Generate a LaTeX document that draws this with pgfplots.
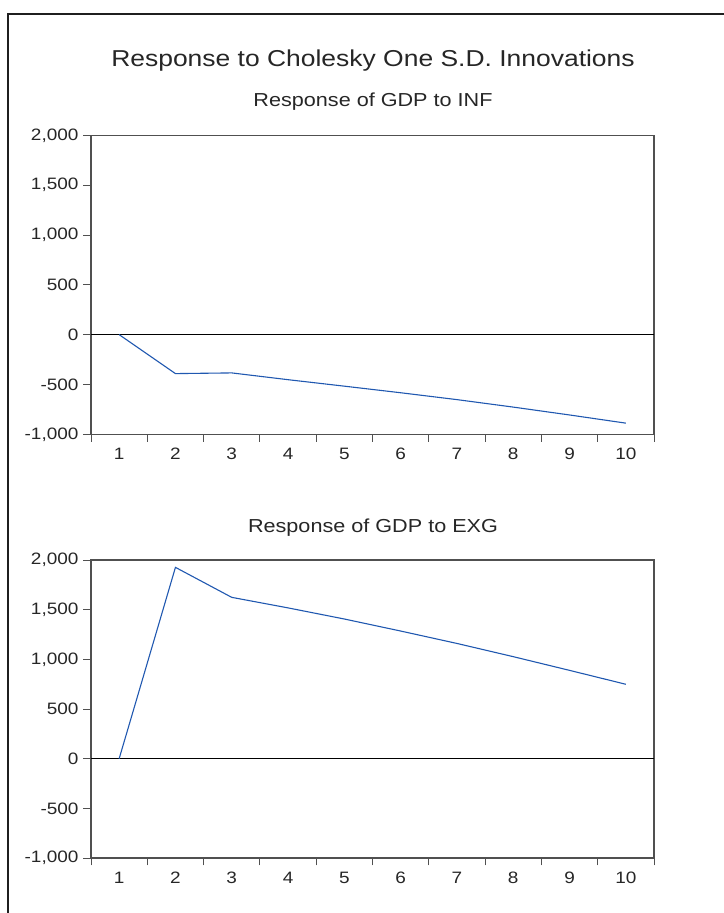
\documentclass[border=0pt]{standalone}
\usepackage{fontspec}
\setmainfont{Liberation Sans}[FakeStretch=1.15]
\usepackage{pgfplots}
\pgfplotsset{compat=1.18}
\definecolor{evblue}{RGB}{32,88,176}
\definecolor{axgray}{RGB}{80,80,80}
\pgfplotsset{
  irf/.style={
    scale only axis,
    width=563bp, height=299bp,
    xmin=0.5, xmax=10.5, ymin=-1000, ymax=2000,
    axis line style={axgray, line width=1.2bp},
    xtick={1,...,10},
    xticklabels={1,2,3,4,5,6,7,8,9,10},
    major x tick style={draw=none},
    minor xtick={0.5,1.5,...,10.5},
    minor x tick style={axgray, line width=0.9bp},
    minor tick length=7.3bp,
    ytick={-1000,-500,0,500,1000,1500,2000},
    yticklabels={{-1,000},{-500},{0},{500},{1,000},{1,500},{2,000}},
    major y tick style={axgray, line width=0.9bp},
    major tick length=8bp,
    tick align=outside,
    xtick pos=bottom, ytick pos=left,
    ticklabel style={font=\fontsize{16.5bp}{17bp}\selectfont, text=black!85},
    xticklabel style={yshift=-2.5bp},
    yticklabel style={xshift=-1bp},
    clip=false,
  }
}
\begin{document}
\begin{tikzpicture}
\useasboundingbox (0,0) rectangle (724bp,-913bp);
\draw[black!88, line width=2.4bp] (8bp,-925bp) -- (8bp,-14bp) -- (740bp,-14bp);
\node[anchor=base, font=\fontsize{23bp}{26bp}\selectfont, text=black!85] at (373bp,-66bp) {Response to Cholesky One S.D. Innovations};
\node[anchor=base, font=\fontsize{18.8bp}{20bp}\selectfont, text=black!85] at (373bp,-106.7bp) {Response of GDP to INF};
\node[anchor=base, font=\fontsize{18.8bp}{20bp}\selectfont, text=black!85] at (373bp,-532bp) {Response of GDP to EXG};

\begin{axis}[irf, at={(91bp,-434.3bp)}, anchor=south west]
\addplot[black, line width=0.9bp, forget plot] coordinates {(0.5,0) (10.5,0)};
\addplot[evblue, line width=1.1bp] coordinates {
(1,0) (2,-391) (3,-384) (4,-452) (5,-517) (6,-583) (7,-652) (8,-727) (9,-806) (10,-888)};
\end{axis}

\begin{axis}[irf, height=298bp, at={(91bp,-858bp)}, anchor=south west]
\addplot[black, line width=0.9bp, forget plot] coordinates {(0.5,0) (10.5,0)};
\addplot[evblue, line width=1.1bp] coordinates {
(1,0) (2,1926) (3,1624) (4,1518) (5,1406) (6,1285) (7,1160) (8,1027) (9,889) (10,749)};
\end{axis}
\end{tikzpicture}
\end{document}
